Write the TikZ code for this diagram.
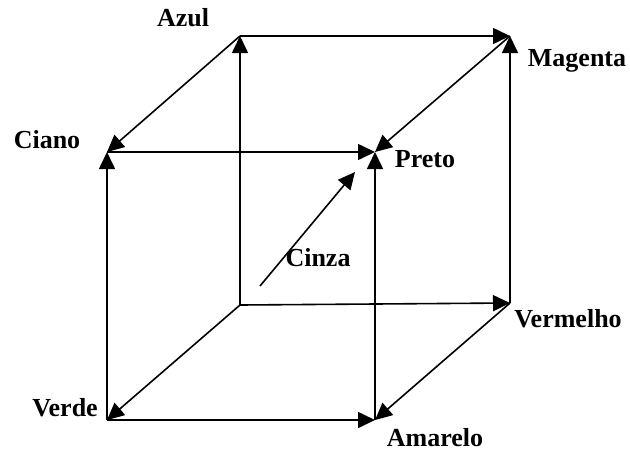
\documentclass[tikz,border=0pt]{standalone}
\usepackage{fontspec}
\setmainfont{Liberation Serif}
\usepackage{tikz}
\usetikzlibrary{arrows.meta, positioning}
\tikzset{
  rotulo/.style={inner sep=0pt,font=\fontsize{13pt}{15pt}\selectfont\bfseries},
  arr/.style={-{Triangle[length=8.5pt,width=8pt]},line width=0.8pt,color=black}
}

\begin{document}
\begin{tikzpicture}[x=0.5pt,y=-0.5pt]
  \useasboundingbox (0,0) rectangle (630,450);

  % vertices of the cube
  \coordinate (branco)   at (240,305);
  \coordinate (azul)     at (240,36);
  \coordinate (magenta)  at (510,36);
  \coordinate (vermelho) at (510,303);
  \coordinate (ciano)    at (107,152);
  \coordinate (preto)    at (375,152);
  \coordinate (verde)    at (107,420);
  \coordinate (amarelo)  at (375,420);
  \coordinate (cinzaini) at (260,286);
  \coordinate (cinzafim) at (355,172);

  % labels
  \node[rotulo] (lazul)     at (183,18)  {Azul};
  \node[rotulo] (lmagenta)  at (577,61)  {Magenta};
  \node[rotulo] (lciano)    at (47,140)  {Ciano};
  \node[rotulo] (lpreto)    at (425,159) {Preto};
  \node[rotulo] (lcinza)    at (318,258) {Cinza};
  \node[rotulo] (lvermelho) at (568,319) {Vermelho};
  \node[rotulo] (lverde)    at (65,408)  {Verde};
  \node[rotulo] (lamarelo)  at (435,438) {Amarelo};

  % edges
  \draw[arr] (branco) -- (azul);
  \draw[arr] (branco) -- (vermelho);
  \draw[arr] (branco) -- (verde);
  \draw[arr] (azul) -- (magenta);
  \draw[arr] (azul) -- (ciano);
  \draw[arr] (vermelho) -- (magenta);
  \draw[arr] (vermelho) -- (amarelo);
  \draw[arr] (verde) -- (ciano);
  \draw[arr] (verde) -- (amarelo);
  \draw[arr] (ciano) -- (preto);
  \draw[arr] (magenta) -- (preto);
  \draw[arr] (amarelo) -- (preto);
  \draw[arr] (cinzaini) -- (cinzafim);
\end{tikzpicture}
\end{document}
